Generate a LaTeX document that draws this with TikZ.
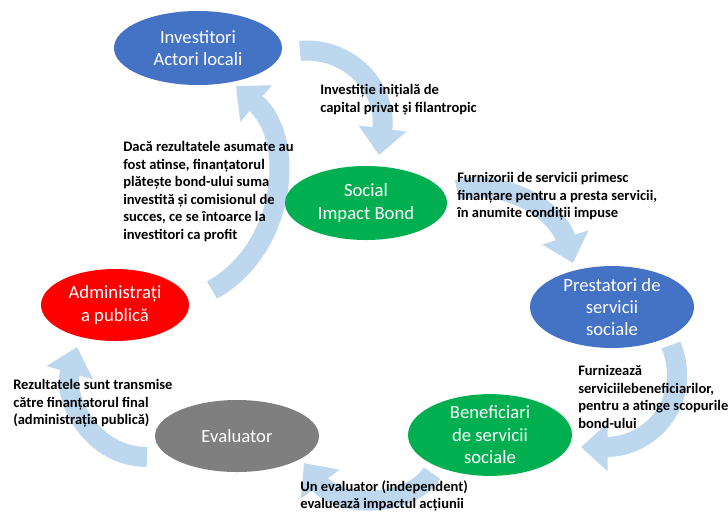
\documentclass[tikz,border=0pt]{standalone}
\usepackage{fontspec}
\setmainfont{Carlito}
\usetikzlibrary{shapes.geometric,arrows.meta}
\definecolor{arrowblue}{HTML}{BDD7EE}
\definecolor{nodeblue}{HTML}{4472C4}
\definecolor{nodegreen}{HTML}{00B050}
\definecolor{nodegray}{HTML}{7F7F7F}
\definecolor{nodered}{HTML}{FF0000}
\begin{document}
\begin{tikzpicture}[x=0.75pt,y=-0.75pt,
  blob/.style={ellipse, inner sep=0pt, text=white, align=center, font=\fontsize{14}{16.8}\selectfont},
  lbl/.style={anchor=north west, inner sep=0pt, align=left, font=\bfseries\fontsize{10.9}{13.2}\selectfont},
  flow/.style={draw=arrowblue, line width=15pt, -{Triangle[width=35pt,length=20pt]}}]
\useasboundingbox[fill=white] (0,0) rectangle (728,512);

% arrows
\coordinate (a1s) at (300,51);  \coordinate (a1e) at (379,155);
\coordinate (a2s) at (457,190); \coordinate (a2e) at (573,263);
\coordinate (a3s) at (671,345); \coordinate (a3e) at (581,447);
\coordinate (a4s) at (432,473); \coordinate (a4e) at (304,463);
\coordinate (a5s) at (147,457); \coordinate (a5e) at (77,347);
\coordinate (a6s) at (212,290); \coordinate (a6e) at (236,86);
\draw[flow] (a1s) .. controls (345,46) and (388,85) .. (a1e);
\draw[flow] (a2s) .. controls (505,178) and (557,210) .. (a2e);
\draw[flow] (a3s) .. controls (693,400) and (652,447) .. (a3e);
\draw[flow] (a4s) .. controls (410,508) and (338,508) .. (a4e);
\draw[flow] (a5s) .. controls (93,457) and (62,400) .. (a5e);
\draw[flow] (a6s) .. controls (285,250) and (298,140) .. (a6e);

% ellipses
\node[blob, fill=nodeblue, minimum width=168pt*0.75, minimum height=74pt*0.75] (inv) at (198,48) {Investitori\\Actori locali};
\node[blob, fill=nodegreen, minimum width=162pt*0.75, minimum height=74pt*0.75] (sib) at (366,203) {Social\\Impact Bond};
\node[blob, fill=nodeblue, minimum width=164pt*0.75, minimum height=75pt*0.75] (pre) at (612,307) {Prestatori de\\servicii\\sociale};
\node[blob, fill=nodegreen, minimum width=164pt*0.75, minimum height=76pt*0.75] (ben) at (490,435) {Beneficiari\\de servicii\\sociale};
\node[blob, fill=nodegray, minimum width=164pt*0.75, minimum height=72pt*0.75] (eva) at (237,436) {Evaluator};
\node[blob, fill=nodered, minimum width=148pt*0.75, minimum height=72pt*0.75] (adm) at (115,305) {Administrați\\a publică};

% labels
\node[lbl] (l1) at (320,84) {Investiție inițială de\\capital privat și filantropic};
\node[lbl] (l2) at (123,141) {Dacă rezultatele asumate au\\fost atinse, finanțatorul\\plătește bond-ului suma\\investită și comisionul de\\succes, ce se întoarce la\\investitori ca profit};
\node[lbl] (l3) at (457,172) {Furnizorii de servicii primesc\\finanțare pentru a presta servicii,\\în anumite condiții impuse};
\node[lbl] (l4) at (578,365) {Furnizează\\serviciilebeneficiarilor,\\pentru a atinge scopurile\\bond-ului};
\node[lbl] (l5) at (13,379) {Rezultatele sunt transmise\\către finanțatorul final\\(administrația publică)};
\node[lbl] (l6) at (300,480) {Un evaluator (independent)\\evaluează impactul acțiunii};
\end{tikzpicture}
\end{document}
